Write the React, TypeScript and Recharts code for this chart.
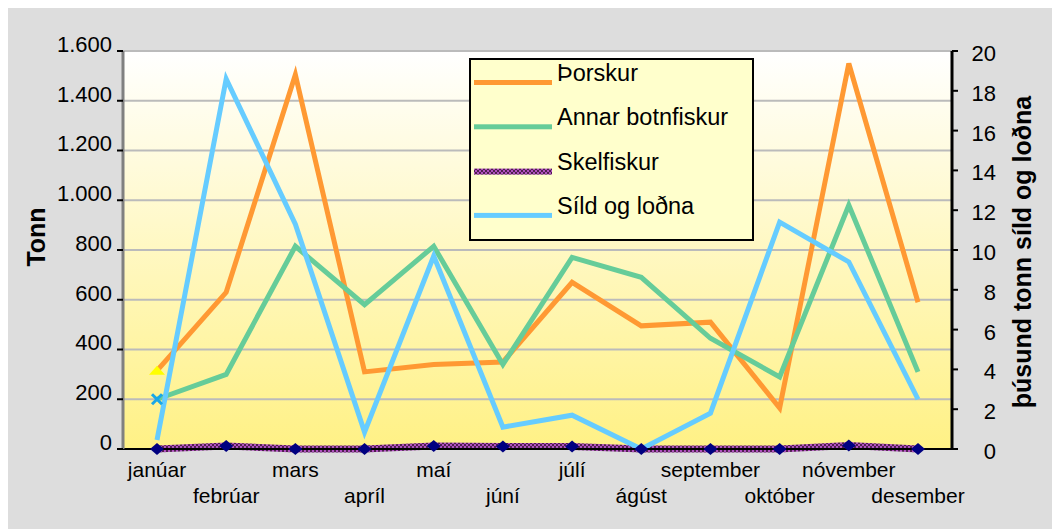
import React from 'react'
import { CartesianGrid, Legend, Line, LineChart, XAxis, YAxis } from 'recharts'

const months = ['janúar', 'febrúar', 'mars', 'apríl', 'maí', 'júní', 'júlí', 'ágúst', 'september', 'október', 'nóvember', 'desember']
const thorskur = [315, 630, 1505, 310, 340, 350, 670, 495, 510, 165, 1550, 590]
const annarBotnfiskur = [200, 300, 815, 580, 815, 340, 770, 690, 445, 290, 980, 310]
const skelfiskur = [0, 12, 0, 0, 12, 10, 10, 0, 0, 0, 14, 0]
const sildOgLodna = [0.45, 18.6, 11.3, 0.85, 9.7, 1.1, 1.7, 0, 1.8, 11.4, 9.4, 2.5]
const leftTicks = [0, 200, 400, 600, 800, 1000, 1200, 1400, 1600]
const rightTicks = [0, 2, 4, 6, 8, 10, 12, 14, 16, 18, 20]

const seriesNames = ['Þorskur', 'Annar botnfiskur', 'Skelfiskur', 'Síld og loðna']
const seriesColors = ['#FF9933', '#66CC99', 'url(#skelPat)', '#66CCFF']

const data = months.map((m, i) => ({
  month: m,
  thorskur: thorskur[i],
  annar: annarBotnfiskur[i],
  skel: skelfiskur[i],
  sild: sildOgLodna[i],
}))

const FONT = '"Liberation Sans", Arial, sans-serif'

const fmtThousands = (v: number) => String(v).replace(/\B(?=(\d{3})+(?!\d))/g, '.')

const LeftTick = (props: any) => {
  const { x, y, payload } = props
  return (
    <text x={x} y={y - 7} dy="0.36em" textAnchor="end" fontSize={22} fontFamily={FONT} fill="#000">
      {fmtThousands(payload.value)}
    </text>
  )
}

const RightTick = (props: any) => {
  const { x, y, payload } = props
  return (
    <text x={x + 38} y={y + 2} dy="0.36em" textAnchor="end" fontSize={22} fontFamily={FONT} fill="#000">
      {payload.value}
    </text>
  )
}

const MonthTick = (props: any) => {
  const { x, y, payload } = props
  const idx = months.indexOf(payload.value)
  return (
    <text x={x} y={y + (idx % 2 ? 54 : 28)} textAnchor="middle" fontSize={21} fontFamily={FONT} fill="#000">
      {payload.value}
    </text>
  )
}

// only the first point of these two series carries a marker
const triangleDot = (p: any) => {
  if (p.index !== 0) return <g key={p.index} />
  return <polygon key={p.index} points={`${p.cx - 8},${p.cy + 4} ${p.cx + 8},${p.cy + 4} ${p.cx},${p.cy - 5}`} fill="#FFFF00" />
}
const crossDot = (p: any) => {
  if (p.index !== 0) return <g key={p.index} />
  return (
    <g key={p.index} stroke="#1AA7E8" strokeWidth={3}>
      <line x1={p.cx - 5} y1={p.cy - 5} x2={p.cx + 5} y2={p.cy + 5} />
      <line x1={p.cx - 5} y1={p.cy + 5} x2={p.cx + 5} y2={p.cy - 5} />
    </g>
  )
}
const diamondDot = (p: any) => (
  <polygon key={p.index} points={`${p.cx - 7},${p.cy} ${p.cx},${p.cy - 6} ${p.cx + 7},${p.cy} ${p.cx},${p.cy + 6}`} fill="#000080" />
)

const SkelPattern = ({ id }: { id: string }) => (
  <pattern id={id} patternUnits="userSpaceOnUse" width="4" height="4">
    <rect width="4" height="4" fill="#B050C0" />
    <rect width="2" height="2" fill="#502050" />
    <rect x="2" y="2" width="2" height="2" fill="#502050" />
  </pattern>
)

const renderLegend = () => (
  <div style={{ position: 'relative', width: 285, height: 183, boxSizing: 'border-box', border: '2px solid #000', background: '#FFFFCC', fontFamily: FONT, fontSize: 23.5 }}>
    <svg width={281} height={179} style={{ position: 'absolute', left: 0, top: 0 }}>
      <defs>
        <SkelPattern id="skelPatLeg" />
      </defs>
      {seriesNames.map((n, i) => (
        <rect key={n} x={3} y={20 + i * 44.3} width={78} height={i === 2 ? 6 : 5}
          fill={i === 2 ? 'url(#skelPatLeg)' : seriesColors[i]} />
      ))}
    </svg>
    {seriesNames.map((n, i) => (
      <div key={n} style={{ position: 'absolute', left: 86, top: 0 + i * 44.3, lineHeight: '27px', whiteSpace: 'nowrap', color: '#000' }}>
        {n}
      </div>
    ))}
  </div>
)

const App = () => {
  return (
    <div style={{ position: 'relative', width: 1052, height: 521, background: '#DDDDDD' }}>
      <LineChart width={1052} height={521} data={data} margin={{ top: 43, right: 28, left: 35, bottom: 20 }}>
        <defs>
          <linearGradient id="plotBg" x1="0" y1="0" x2="0" y2="1">
            <stop offset="0" stopColor="#FFFFFF" />
            <stop offset="1" stopColor="#FFF185" />
          </linearGradient>
          <SkelPattern id="skelPat" />
        </defs>
        <CartesianGrid yAxisId="left" vertical={false} stroke="#BBBBBB" strokeWidth={2} fill="url(#plotBg)" fillOpacity={1} />
        <XAxis dataKey="month" height={60} padding={{ left: 34, right: 34 }} interval={0}
          axisLine={{ stroke: '#000', strokeWidth: 2 }} tickLine={false} tickSize={0} tickMargin={0} tick={<MonthTick />} />
        <YAxis yAxisId="left" orientation="left" width={80} domain={[0, 1600]} ticks={leftTicks} interval={0}
          axisLine={{ stroke: '#808080', strokeWidth: 3 }} tickLine={{ stroke: '#000', strokeWidth: 2 }} tickSize={6} tickMargin={5} tick={<LeftTick />} />
        <YAxis yAxisId="right" orientation="right" width={80} domain={[0, 20]} ticks={rightTicks} interval={0}
          axisLine={{ stroke: '#000', strokeWidth: 3 }} tickLine={{ stroke: '#000', strokeWidth: 2 }} tickSize={6} tickMargin={0} tick={<RightTick />} />
        <Legend verticalAlign="middle" align="center" content={renderLegend}
          wrapperStyle={{ left: 461, top: 50, width: 285, height: 183 }} />
        <Line yAxisId="left" type="linear" dataKey="thorskur" name={seriesNames[0]} stroke={seriesColors[0]} strokeWidth={5}
          dot={triangleDot} activeDot={false} isAnimationActive={false} />
        <Line yAxisId="left" type="linear" dataKey="annar" name={seriesNames[1]} stroke={seriesColors[1]} strokeWidth={5}
          dot={crossDot} activeDot={false} isAnimationActive={false} />
        <Line yAxisId="left" type="linear" dataKey="skel" name={seriesNames[2]} stroke={seriesColors[2]} strokeWidth={7}
          dot={diamondDot} activeDot={false} isAnimationActive={false} />
        <Line yAxisId="right" type="linear" dataKey="sild" name={seriesNames[3]} stroke={seriesColors[3]} strokeWidth={5}
          dot={false} activeDot={false} isAnimationActive={false} />
      </LineChart>
      <div style={{ position: 'absolute', left: 28, top: 229, transform: 'translate(-50%, -50%) rotate(-90deg)', fontFamily: FONT, fontWeight: 'bold', fontSize: 25, whiteSpace: 'nowrap' }}>
        Tonn
      </div>
      <div style={{ position: 'absolute', left: 1014, top: 244, transform: 'translate(-50%, -50%) rotate(-90deg)', fontFamily: FONT, fontWeight: 'bold', fontSize: 25, whiteSpace: 'nowrap' }}>
        þúsund tonn síld og loðna
      </div>
    </div>
  )
}

export default App
